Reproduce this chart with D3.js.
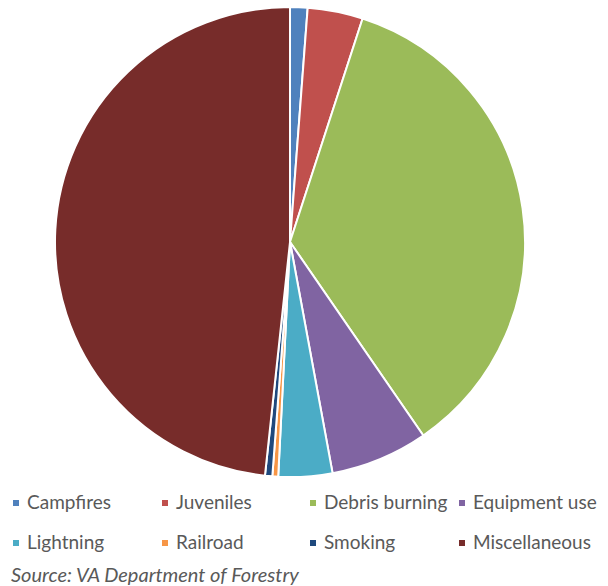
<!DOCTYPE html>
<html lang="en">
<head>
  <meta charset="UTF-8">
  <title>Wildfire causes</title>
  <style>
    body {
      margin: 0;
      padding: 0;
      background-color: #ffffff;
      font-family: Lato, "Open Sans", sans-serif;
    }
    .legend text {
      fill: #595959;
      font-size: 19px;
    }
    .source {
      fill: #595959;
      font-size: 20px;
      font-style: italic;
    }
  </style>
  <script src="https://d3js.org/d3.v7.min.js"></script>
</head>
<body>
  <div id="chart"></div>
  <script>
    // causes of fires, share in percent
    const categories = ["Campfires", "Juveniles", "Debris burning", "Equipment use",
                        "Lightning", "Railroad", "Smoking", "Miscellaneous"];
    const shares = [1.2, 3.8, 35.4, 6.7, 3.7, 0.4, 0.5, 48.3];
    const colors = ["#4f81bd", "#c0504d", "#9bbb59", "#8064a2",
                    "#4bacc6", "#f79646", "#1f497d", "#772c2a"];

    const width = 608;
    const height = 586;
    const cx = 290, cy = 242, radius = 235;

    const svg = d3.select("#chart")
      .append("svg")
      .attr("width", width)
      .attr("height", height);

    const data = categories.map((c, i) => ({ name: c, value: shares[i] }));

    const color = d3.scaleOrdinal()
      .domain(categories)
      .range(colors);

    const pie = d3.pie()
      .sort(null)
      .value(d => d.value);

    const arc = d3.arc()
      .innerRadius(0)
      .outerRadius(radius);

    svg.append("g")
      .attr("transform", `translate(${cx},${cy})`)
      .selectAll("path")
      .data(pie(data))
      .join("path")
      .attr("d", arc)
      .attr("fill", d => color(d.data.name))
      .attr("stroke", "#fff")
      .attr("stroke-width", 2);

    // legend: two rows of four
    const colX = [13, 162, 310, 459];
    const rowY = [509, 549];

    const legend = svg.append("g").attr("class", "legend");

    const items = legend.selectAll("g")
      .data(categories)
      .join("g")
      .attr("transform", (d, i) => `translate(${colX[i % 4]},${rowY[Math.floor(i / 4)]})`);

    items.append("rect")
      .attr("x", 0)
      .attr("y", -9)
      .attr("width", 6)
      .attr("height", 6)
      .attr("fill", d => color(d));

    items.append("text")
      .attr("x", 14)
      .attr("y", 0)
      .text(d => d);

    svg.append("text")
      .attr("class", "source")
      .attr("x", 11)
      .attr("y", 582)
      .text("Source: VA Department of Forestry");
  </script>
</body>
</html>
